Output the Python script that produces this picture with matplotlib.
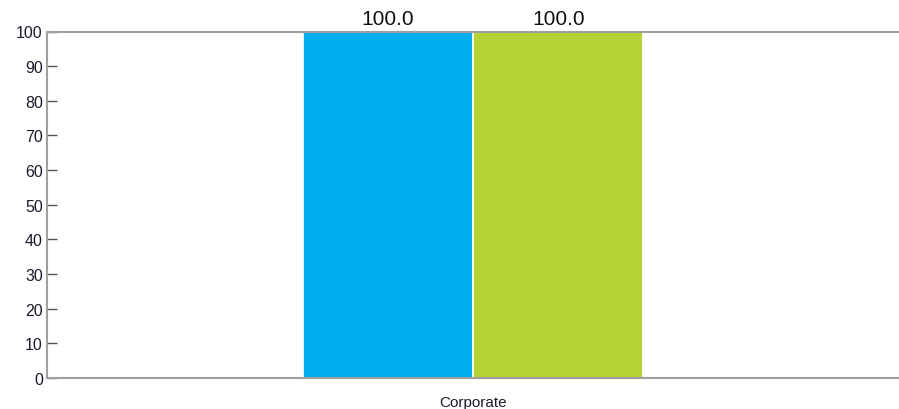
import matplotlib
matplotlib.use("Agg")
import matplotlib.pyplot as plt
import numpy as np

categories = ["Corporate"]
series_names = ["Series 1", "Series 2"]
series_values = [[100.0], [100.0]]
series_colors = ["#00ADEE", "#B5D334"]
yticks = [0, 10, 20, 30, 40, 50, 60, 70, 80, 90, 100]

plt.rcParams['font.family'] = ['Liberation Sans', 'DejaVu Sans']

fig = plt.figure(figsize=(8.99, 4.10), dpi=100)
ax = fig.add_axes([47/899, 31/410, 1 - 47/899, (379 - 32.5)/410])

x = np.arange(len(categories))
width = 0.2
for i, (name, vals, col) in enumerate(zip(series_names, series_values, series_colors)):
    offs = (i - (len(series_names) - 1) / 2) * width
    bars = ax.bar(x + offs, vals, width=width, color=col, edgecolor="white", linewidth=1.2, label=name)
    for b, v in zip(bars, vals):
        ax.annotate(f"{v:.1f}", (b.get_x() + b.get_width() / 2, v), xytext=(0, 2.5),
                    textcoords="offset points", ha="center", va="bottom",
                    fontsize=15, color="#111111")

ax.set_xlim(-0.5, 0.5)
ax.set_ylim(0, 100)
ax.set_yticks(yticks)
ax.set_xticks(x)
ax.set_xticklabels(categories)
ax.tick_params(axis="y", direction="in", length=7.5, width=1, color="#555555",
               labelsize=11.5, labelcolor="#1a1a2a", pad=3)
ax.tick_params(axis="x", length=0, labelsize=11, labelcolor="#1a1a2a", pad=12)
for s in ["left", "bottom", "top"]:
    ax.spines[s].set_color("#a0a0a0")
    ax.spines[s].set_linewidth(1.5)
ax.spines["right"].set_visible(False)

fig.savefig("out.png", dpi=100)
